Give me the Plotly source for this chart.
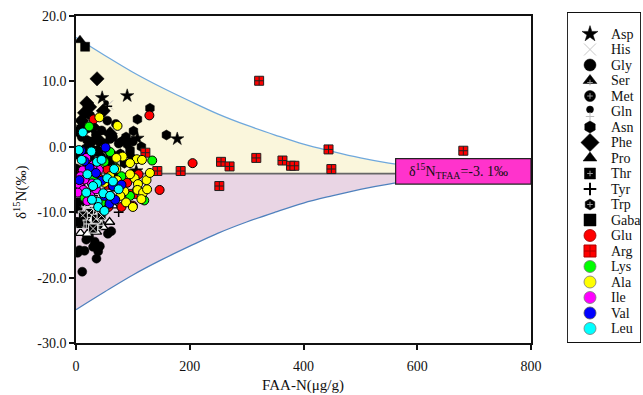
import plotly.graph_objects as go

W, H = 643, 395
FONT = "Liberation Serif, Times New Roman, serif"

# ---------------- data ----------------
SERIES = ["Asp", "His", "Gly", "Ser", "Met", "Gln", "Asn", "Phe", "Pro", "Thr",
          "Tyr", "Trp", "Gaba", "Glu", "Arg", "Lys", "Ala", "Ile", "Val", "Leu"]

ASP = [(46, 7.5), (90, 7.8), (108, 1.3), (178, 1.2), (106, -3.7), (58, -1.0), (30, -2.5), (12, 3.0), (70, -4.5)]
HIS = [(57, 6.4), (20, -3.0), (40, -6.0), (15, -9.0)]
GLY = [(11, -19.1), (6, -15.8), (15, -15.9), (39, -16.0), (36, -17.1), (30, -15.3), (23, -13.7), (18, -14.2),
       (33, -14.5), (56, -13.3), (62, -12.9), (3, -16.2), (42, -15.2), (3, 2.3), (10, 1.5), (20, 2.8), (28, 0.8),
       (35, 1.8), (45, 2.5), (50, 0.5), (60, 1.2), (65, 1.5), (75, 0.5), (5, -3.5), (8, -6.0), (3, -9.5), (2, -4.5),
       (70, 3.5), (55, 4.0), (25, 4.8), (14, -1.5), (85, 1.0), (95, -1.2), (100, 0.8), (38, -0.5), (2, -11.5)]
SER = [(27, -11.2), (41, -11.2), (59, -11.5), (8, -13.2), (36, -13.0), (20, -13.3), (48, -12.3), (14, -10.5), (65, -9.0)]
MET = [(28, -9.8), (40, -12.0), (18, -11.8), (50, -9.5), (10, -8.5)]
GLN = [(53, 6.7), (2, -1.0), (8, -8.5), (1, -3.0)]
ASN = [(130, 5.9), (108, 4.2), (101, 2.4), (159, 1.8), (80, 0.8), (95, -0.5), (88, 1.5), (115, 0.0), (70, -1.5),
       (20, 1.0), (85, -2.5)]
PHE = [(37, 10.4), (19, 6.7), (24, 6.1), (15, 5.2), (10, 4.0), (5, 2.4), (30, 3.0), (40, 1.0), (22, 0.0),
       (12, -0.8), (60, 2.0), (48, 5.5)]
PRO = [(7, 16.3), (3, -1.5), (18, -3.0)]
THR = [(6, -11.8), (23, -10.1), (35, -11.0), (45, -10.5), (12, -10.5), (30, -12.5)]
TYR = [(55, 6.2), (30, -7.5), (75, -10.0)]
TRP = [(78, -1.0), (90, 0.3), (100, -1.8), (45, -1.5)]
GABA = [(16, 15.3), (2, -1.0), (5, -6.5), (3, -11.5), (10, -4.0), (25, -2.0), (40, -0.8), (60, -2.2), (1, -8.5)]
GLU = [(31, 4.2), (129, 4.8), (205, -2.5), (147, -6.6), (55, -3.5), (20, -2.5), (70, -6.0), (90, -5.5), (40, -4.8),
       (100, -9.0), (80, -9.2), (10, -3.8), (110, -4.2), (60, -7.5), (57, -9.2)]
ARG = [(322, 10.1), (444, -0.4), (255, -2.3), (270, -3.0), (317, -1.7), (363, -2.1), (378, -2.9), (384, -2.9),
       (449, -3.4), (184, -3.7), (143, -3.7), (252, -6.0), (681, -0.6), (122, -0.9), (58, -5.8), (100, -7.2), (30, -4.5)]
LYS = [(23, 3.1), (134, -2.1), (108, -6.5), (60, -0.8), (50, -2.3), (2, -6.7), (30, -5.0), (80, -4.5), (95, -7.5),
       (15, -7.8), (45, -8.5), (70, -3.2), (120, -8.2)]
ALA = [(41, 4.5), (73, 3.2), (107, -1.9), (116, -2.0), (124, -5.1), (71, -3.4), (103, -4.8), (109, -5.7), (108, -6.6),
       (72, -5.1), (66, -6.1), (85, -6.8), (95, -4.2), (118, -7.0), (130, -4.0), (88, -8.5), (100, -9.2), (115, -8.0),
       (78, -7.5), (60, -4.5), (125, -6.5), (95, -2.5), (50, -5.5), (82, -1.5), (71, -1.7)]
ILE = [(18, -1.7), (12, -3.6), (6, -5.8), (28, -5.6), (13, -6.6), (25, -7.4), (8, -4.5), (20, -8.3), (35, -6.5),
       (3, -7.0), (15, -5.0), (40, -3.5), (30, -2.8)]
VAL = [(9, -0.6), (24, -3.2), (52, -0.1), (59, -8.7), (69, -8.1), (6, -5.1), (45, -5.2), (35, -4.0), (65, -6.0),
       (15, -2.2), (50, -7.5), (80, -5.8)]
LEU = [(12, 2.2), (27, -0.7), (37, -2.3), (67, -3.4), (37, -5.6), (48, -7.1), (60, -7.5), (38, -8.4), (28, -8.1),
       (39, -9.2), (20, -4.2), (55, -4.8), (45, -2.0), (10, -2.0), (75, -6.5), (30, -6.0), (18, -7.0), (50, -9.8),
       (65, -5.3), (5, -0.5)]

POINTS = [ASP, HIS, GLY, SER, MET, GLN, ASN, PHE, PRO, THR, TYR, TRP, GABA, GLU, ARG, LYS, ALA, ILE, VAL, LEU]

# envelope
ENV_X = [0, 50, 100, 150, 200, 250, 300, 350, 400, 450, 500, 550, 600, 650, 700, 750, 800]
ENV_UP = [16.7, 14.0, 11.4, 9.1, 7.0, 5.0, 3.3, 1.8, 0.4, -0.7, -1.7, -2.5, -3.1, -3.6, -3.9, -4.0, -4.1]
ENV_LO = [-24.9, -22.2, -19.6, -17.3, -15.2, -13.2, -11.5, -10.0, -8.6, -7.5, -6.5, -5.7, -5.1, -4.6, -4.3, -4.2, -4.1]
CENTER = -4.1
LINE_X = [0, 800]

BOX_X = [562, 800]
BOX_Y = [-5.7, -1.8]
BOX_LABEL = "δ<sup>15</sup>N<sub>TFAA</sub>=-3. 1‰"

X_TICKS = [0, 200, 400, 600, 800]
Y_TICKS = [-30, -20, -10, 0, 10, 20]
Y_TICKTEXT = ["-30.0", "-20.0", "-10.0", "0.0", "10.0", "20.0"]

# ---------------- styles ----------------
BLK = "#000000"
GRAY_IN = "#9a9a9a"
PLOT_STYLE = {
    "Asp": ("star", BLK, BLK, 0.5, 10),
    "His": ("x-thin-open", "#bbbbbb", "#bbbbbb", 1, 9),
    "Gly": ("circle", BLK, BLK, 0.5, 9),
    "Ser": ("triangle-up", "white", BLK, 1.3, 9),
    "Met": ("circle-cross", BLK, "#dddddd", 1, 9),
    "Gln": ("circle", BLK, BLK, 0.5, 5),
    "Asn": ("hexagon", BLK, BLK, 0.5, 10),
    "Phe": ("diamond", BLK, BLK, 0.5, 11),
    "Pro": ("triangle-up", BLK, BLK, 0.5, 10),
    "Thr": ("square-x", BLK, "#dddddd", 1, 9),
    "Tyr": ("cross-thin-open", BLK, BLK, 1.5, 7),
    "Trp": ("hexagon", BLK, BLK, 0.5, 9),
    "Gaba": ("square", BLK, BLK, 0.5, 9),
    "Glu": ("circle", "#ff0000", BLK, 1, 9),
    "Arg": ("square-cross", "#ff0000", "#222222", 1, 9),
    "Lys": ("circle", "#00ff00", BLK, 1, 9),
    "Ala": ("circle", "#ffff00", BLK, 1, 9),
    "Ile": ("circle", "#ff00ff", BLK, 1, 9),
    "Val": ("circle", "#0000ff", BLK, 1, 9),
    "Leu": ("circle", "#00ffff", BLK, 1, 9),
}
LEG_STYLE = {
    "Asp": ("star", BLK, BLK, 0.5, 12),
    "His": ("x-thin-open", "#c8c8c8", "#c8c8c8", 1, 12),
    "Gly": ("circle", BLK, BLK, 0.5, 12),
    "Ser": ("triangle-up", BLK, BLK, 0.5, 12),
    "Met": ("circle", BLK, BLK, 0.5, 11),
    "Gln": ("circle", BLK, BLK, 0.5, 7),
    "Asn": ("hexagon", BLK, BLK, 0.5, 12),
    "Phe": ("diamond", BLK, BLK, 0.5, 14),
    "Pro": ("triangle-up", BLK, BLK, 0.5, 12),
    "Thr": ("square", BLK, BLK, 0.5, 11),
    "Tyr": ("cross-thin-open", BLK, BLK, 2, 9),
    "Trp": ("hexagon", BLK, BLK, 0.5, 11),
    "Gaba": ("square", BLK, BLK, 0.5, 12),
    "Glu": ("circle", "#ff0000", "#990000", 0.8, 12),
    "Arg": ("square-cross", "#ff0000", "#b00000", 1, 12),
    "Lys": ("circle", "#00ff00", "#777777", 0.8, 12),
    "Ala": ("circle", "#ffff00", "#777777", 0.8, 12),
    "Ile": ("circle", "#ff00ff", "#777777", 0.8, 12),
    "Val": ("circle", "#0000ff", "#555555", 0.8, 12),
    "Leu": ("circle", "#00ffff", "#777777", 0.8, 12),
}
INNER = {"Ser", "Met", "Thr", "Trp"}

# ---------------- geometry (pixels) ----------------
PL, PR, PT, PB = 76, 531, 16, 343
LG_L, LG_R, LG_T, LG_B = 567, 641, 12, 343
LG_Y0, LG_DY = 34, 15.5
LG_MX, LG_TX = 590, 609

fig = go.Figure()

fig.add_trace(go.Scatter(x=LINE_X, y=[CENTER] * len(LINE_X), mode="lines", line=dict(width=0),
                         showlegend=False, hoverinfo="skip"))
fig.add_trace(go.Scatter(x=ENV_X, y=ENV_UP, mode="lines", line=dict(color="#6fa8dc", width=1.3, shape="spline"),
                         fill="tonexty", fillcolor="#faf6dc", showlegend=False, hoverinfo="skip"))
fig.add_trace(go.Scatter(x=LINE_X, y=[CENTER] * len(LINE_X), mode="lines", line=dict(width=0),
                         showlegend=False, hoverinfo="skip"))
fig.add_trace(go.Scatter(x=ENV_X, y=ENV_LO, mode="lines", line=dict(color="#4f81bd", width=1.3, shape="spline"),
                         fill="tonexty", fillcolor="#e9d5e4", showlegend=False, hoverinfo="skip"))
fig.add_trace(go.Scatter(x=LINE_X, y=[CENTER] * len(LINE_X), mode="lines", line=dict(color="#666666", width=1.6),
                         showlegend=False, hoverinfo="skip"))

for name, pts in zip(SERIES, POINTS):
    sym, fill, lc, lw, sz = PLOT_STYLE[name]
    fig.add_trace(go.Scatter(x=[p[0] for p in pts], y=[p[1] for p in pts], mode="markers", name=name,
                             marker=dict(symbol=sym, color=fill, size=sz, line=dict(color=lc, width=lw)),
                             showlegend=False))

annotations = []
for i, name in enumerate(SERIES):
    yy = LG_Y0 + LG_DY * i
    sym, fill, lc, lw, sz = LEG_STYLE[name]
    my = yy - 2 if name == "Gln" else yy
    fig.add_trace(go.Scatter(x=[LG_MX], y=[my], xaxis="x2", yaxis="y2", mode="markers", showlegend=False,
                             marker=dict(symbol=sym, color=fill, size=sz, line=dict(color=lc, width=lw)),
                             hoverinfo="skip"))
    if name in INNER:
        fig.add_trace(go.Scatter(x=[LG_MX], y=[yy + (2 if name == "Ser" else 0)], xaxis="x2", yaxis="y2",
                                 mode="markers", showlegend=False,
                                 marker=dict(symbol="cross-thin-open", size=4, color=GRAY_IN,
                                             line=dict(color=GRAY_IN, width=1)),
                                 hoverinfo="skip"))
    if name == "Gln":
        fig.add_trace(go.Scatter(x=[LG_MX], y=[yy + 5], xaxis="x2", yaxis="y2", mode="markers", showlegend=False,
                                 marker=dict(symbol="cross-thin-open", size=6, color="#bbbbbb",
                                             line=dict(color="#bbbbbb", width=1)),
                                 hoverinfo="skip"))
    annotations.append(dict(x=LG_TX, y=yy, xref="x2", yref="y2", text=name, showarrow=False,
                            xanchor="left", yanchor="middle", font=dict(family=FONT, size=14, color="#111")))

annotations.append(dict(x=582, y=(BOX_Y[0] + BOX_Y[1]) / 2, xref="x", yref="y", xanchor="left",
                        yanchor="middle", text=BOX_LABEL, showarrow=False,
                        font=dict(family=FONT, size=14, color="#111")))
annotations.append(dict(x=21 / W, y=1 - 193 / H, xref="paper", yref="paper", text="δ<sup>15</sup>N(‰)",
                        xanchor="center", yanchor="middle",
                        textangle=-90, showarrow=False, font=dict(family=FONT, size=15, color="#111")))
annotations.append(dict(x=303 / W, y=1 - 385 / H, xref="paper", yref="paper", text="FAA-N(μg/g)",
                        xanchor="center", yanchor="middle",
                        showarrow=False, font=dict(family=FONT, size=15, color="#111")))

shapes = [
    dict(type="rect", xref="x", yref="y", x0=BOX_X[0], x1=BOX_X[1], y0=BOX_Y[0], y1=BOX_Y[1],
         fillcolor="#ff33cc", line=dict(color="#222", width=1.2), layer="above"),
    dict(type="rect", xref="x2", yref="y2", x0=LG_L, x1=LG_R, y0=LG_T, y1=LG_B,
         line=dict(color="#111", width=1.8), layer="below"),
]

axis_common = dict(showgrid=False, zeroline=False, showline=True, linecolor="#111", linewidth=1.6,
                   mirror=True, ticks="outside", ticklen=5, tickwidth=1.5, tickcolor="#111", automargin=False,
                   tickfont=dict(family=FONT, size=14, color="#111"))

fig.update_layout(
    template="none",
    width=W, height=H, margin=dict(l=0, r=0, t=0, b=0, pad=0), autosize=False,
    paper_bgcolor="white", plot_bgcolor="white",
    xaxis=dict(range=[0, 800], domain=[PL / W, PR / W], tickvals=X_TICKS, anchor="y",
               ticklabelstandoff=4, **axis_common),
    yaxis=dict(range=[-30, 20], domain=[1 - PB / H, 1 - PT / H], tickvals=Y_TICKS, ticktext=Y_TICKTEXT,
               anchor="x", **axis_common),
    xaxis2=dict(range=[LG_L, LG_R], domain=[LG_L / W, LG_R / W], visible=False, anchor="y2", automargin=False),
    yaxis2=dict(range=[LG_B, LG_T], domain=[1 - LG_B / H, 1 - LG_T / H], visible=False, anchor="x2",
                automargin=False),
    annotations=annotations, shapes=shapes, showlegend=False,
)

fig.write_html("out.html", post_script="document.body.style.margin='0';document.body.style.overflow='hidden';")
